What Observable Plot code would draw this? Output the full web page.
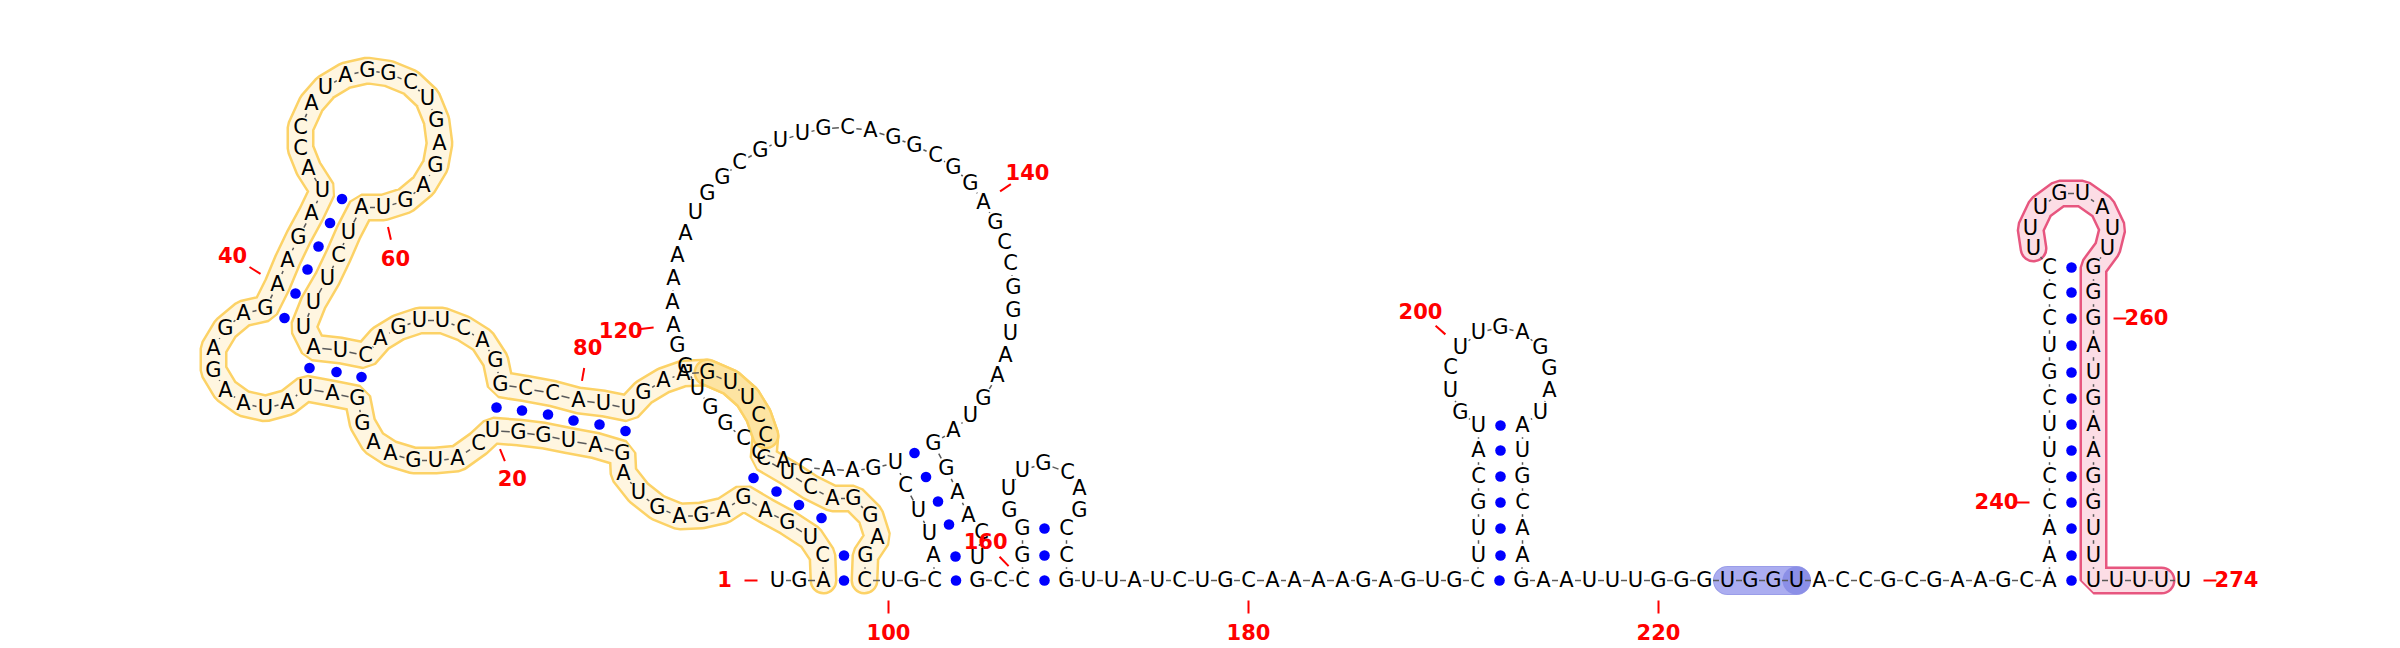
<!DOCTYPE html>
<html>
<head>
<meta charset="utf-8">
<script src="https://cdn.jsdelivr.net/npm/d3@7"></script>
<script src="https://cdn.jsdelivr.net/npm/@observablehq/plot@0.6"></script>
<style>
html, body { margin: 0; padding: 0; background: #fff; overflow: hidden; }
#chart svg { display: block; }
</style>
</head>
<body>
<div id="chart"></div>
<script>
// ---- data ----
const sequence =
  "UGACUGAGAG" + "AGUAGAUGGU" + "CAUGAAGGAU" + "AUAAGAGAGA" + "AGAUACCAUA" +
  "GGCUGAGAGU" + "AUCUUUAUCA" + "GUUCAGGCCA" + "UUGAAGUUCC" + "CUCAGGAGCU" +
  "GCAUUCUGAA" + "CACCGGUGGA" + "AAAAUGGCGU" + "UGCAGGCGGA" + "GCCGGUAAGU" +
  "AGGAACUGCC" + "GGGUUGCAGC" + "CGUUAUCUGC" + "AAAAGAGUGC" + "UUGCAUGUCU" +
  "UGAGGAUAUG" + "CAAGAAUUUG" + "GGUGGUACCG" + "CGAAGCAAAC" + "CUUCGUCCCU" +
  "UUGUAUUGGG" + "AUGAAGGUUU" + "UUUU";

// layout coordinates of each nucleotide (structure-drawing units)
const nx = [
  777,799,823,822,810,787,765,743,723,701,
  679,657,638,623,622,595,568,543,518,492,
  478,457,435,413,390,373,362,357,332,305,
  287,265,243,225,213,213,225,243,265,277,
  287,298,311,322,308,300,300,311,325,345,
  367,388,410,427,436,439,435,423,405,383,
  361,348,338,327,313,303,313,340,365,380,
  398,419,442,463,482,495,500,525,552,578,
  603,628,643,663,683,707,730,747,758,765,
  763,787,810,832,853,870,877,865,864,888,
  911,934,933,929,918,905,895,873,852,828,
  805,783,758,743,725,710,697,685,677,673,
  672,673,677,685,695,707,722,739,760,780,
  802,823,847,870,893,914,935,953,970,983,
  995,1004,1010,1013,1013,1010,1005,997,983,970,
  953,933,946,957,968,981,977,977,1000,1022,
  1022,1022,1009,1008,1022,1043,1067,1079,1079,1066,
  1066,1066,1088,1111,1134,1157,1179,1202,1225,1248,
  1272,1294,1318,1342,1363,1385,1408,1432,1454,1477,
  1478,1478,1478,1478,1478,1478,1460,1450,1450,1460,
  1478,1500,1522,1540,1549,1549,1540,1522,1522,1522,
  1522,1522,1522,1521,1543,1566,1589,1612,1635,1658,
  1681,1704,1727,1750,1773,1796,1819,1842,1865,1888,
  1911,1934,1957,1980,2003,2026,2049,2049,2049,2049,
  2049,2049,2049,2049,2049,2049,2049,2049,2049,2033,
  2030,2040,2059,2082,2102,2112,2107,2093,2093,2093,
  2093,2093,2093,2093,2093,2093,2093,2093,2093,2093,
  2116,2139,2161,2183
];
const ny = [
  580,580,580,555,537,522,510,497,510,515,
  516,507,492,473,453,445,440,435,432,430,
  443,458,460,460,453,442,423,398,393,388,
  402,408,403,390,370,348,328,313,308,284,
  260,237,213,190,168,148,127,103,87,75,
  70,73,82,98,120,143,165,185,200,207,
  207,232,255,278,302,327,347,350,355,338,
  327,320,320,328,340,360,384,388,393,400,
  403,408,392,380,373,372,382,397,415,435,
  458,472,487,498,498,515,537,555,580,580,
  580,580,555,533,510,485,462,468,470,469,
  467,460,452,438,423,407,388,366,345,325,
  302,278,255,233,212,193,177,162,150,140,
  133,128,127,130,137,145,155,167,183,202,
  222,242,263,287,310,333,355,375,398,415,
  430,443,468,492,515,532,557,580,580,580,
  555,528,510,488,470,463,472,488,510,528,
  555,580,580,580,580,580,580,580,580,580,
  580,580,580,580,580,580,580,580,580,580,
  555,528,502,476,450,425,412,390,367,347,
  332,327,332,347,368,390,412,425,450,476,
  502,528,555,580,580,580,580,580,580,580,
  580,580,580,580,580,580,580,580,580,580,
  580,580,580,580,580,580,580,555,528,502,
  476,450,424,398,372,345,318,292,267,248,
  228,207,193,193,207,228,248,267,292,318,
  345,372,398,424,450,476,502,528,555,580,
  580,580,580,580
];

// base pairs (5' partner, 3' partner)
const pairFrom = [3,4,5,6,7,8, 15,16,17,18,19,20, 28,29,30, 39,40,41,42,43,44,
  102,103,104,105,106,107, 160,161,162, 190,191,192,193,194,195,196,
  237,238,239,240,241,242,243,244,245,246,247,248,249];
const pairTo = [99,98,94,93,92,91, 82,81,80,79,78,77, 69,68,67, 66,65,64,63,62,61,
  158,157,155,154,153,152, 172,171,170, 214,213,212,211,210,209,208,
  270,269,268,267,266,265,264,263,262,261,260,259,258];

// position labels and the direction (degrees) in which each is drawn
const labelNums = [1,20,40,60,80,100,120,140,160,180,200,220,240,260,274];
const labelAngles = [180,68,212,77,280,90,174,326,226,90,221,90,180,0,0];

// highlighted stretches of the backbone
const regionStart = [3, 86, 223, 250];
const regionEnd   = [99, 90, 226, 273];
const spotNums = [226];

// ---- styles ----
const regionStyle = [
  {outline: "#fcd266", fill: "#fff6e0", outer: 28, inner: 23},
  {outline: "#fcd266", fill: "#fde4a2", outer: 28, inner: 23},
  {outline: "#9a9de9", fill: "#abadf0", outer: 29, inner: 27},
  {outline: "#e7567f", fill: "#fcdde5", outer: 28, inner: 23}
];
const spotStyle = {fill: "#8b8fe7", r: 14};

// ---- derived tables ----
const nts = Array.from(sequence, (b, i) => ({n: i + 1, b, x: nx[i], y: ny[i]}));

const backbone = [];
for (let i = 0; i + 1 < nts.length; i++) {
  const a = nts[i], c = nts[i + 1];
  const dx = c.x - a.x, dy = c.y - a.y, len = Math.hypot(dx, dy);
  const ux = dx / len, uy = dy / len;
  const s = 8.5 + 3.2 * Math.abs(uy);
  if (len > 2 * s + 0.5) {
    backbone.push({x1: a.x + ux * s, y1: a.y + uy * s, x2: c.x - ux * s, y2: c.y - uy * s});
  }
}

const pairDots = pairFrom.map((p, k) => {
  const a = nts[p - 1], c = nts[pairTo[k] - 1];
  return {x: (a.x + c.x) / 2, y: (a.y + c.y) / 2};
});

const labels = labelNums.map((n, k) => {
  const t = labelAngles[k] * Math.PI / 180, cx = Math.cos(t), cy = Math.sin(t);
  const d = nts[n - 1];
  return {
    n,
    x1: d.x + cx * 20, y1: d.y + cy * 20,
    x2: d.x + cx * 33, y2: d.y + cy * 33,
    tx: d.x + cx * 53, ty: d.y + cy * 53
  };
});

const regionMarks = [];
regionStart.forEach((s, k) => {
  const seg = nts.filter(d => d.n >= s && d.n <= regionEnd[k]);
  const st = regionStyle[k];
  regionMarks.push(Plot.line(seg, {x: "x", y: "y", stroke: st.outline, strokeWidth: st.outer,
    strokeLinejoin: "miter", strokeLinecap: "round", curve: "linear"}));
  regionMarks.push(Plot.line(seg, {x: "x", y: "y", stroke: st.fill, strokeWidth: st.inner,
    strokeLinejoin: "miter", strokeLinecap: "round", curve: "linear"}));
});
const spots = nts.filter(d => spotNums.includes(d.n));

const chart = Plot.plot({
  width: 2400,
  height: 648,
  margin: 0,
  x: {domain: [0, 2400], range: [0, 2400], axis: null},
  y: {domain: [0, 648], range: [0, 648], axis: null},
  style: {background: "#ffffff", fontFamily: "DejaVu Sans, Verdana, sans-serif"},
  marks: [
    ...regionMarks,
    Plot.dot(spots, {x: "x", y: "y", r: spotStyle.r, fill: spotStyle.fill, stroke: "none"}),
    Plot.link(backbone, {x1: "x1", y1: "y1", x2: "x2", y2: "y2", stroke: "#5a5a5a", strokeWidth: 1.5}),
    Plot.dot(pairDots, {x: "x", y: "y", r: 5.3, fill: "#0000ff", stroke: "none"}),
    Plot.text(nts, {x: "x", y: "y", text: "b", fontSize: 21, fill: "#000000",
      fontFamily: "DejaVu Sans, sans-serif"}),
    Plot.link(labels, {x1: "x1", y1: "y1", x2: "x2", y2: "y2", stroke: "#ff0000", strokeWidth: 2}),
    Plot.text(labels, {x: "tx", y: "ty", text: d => String(d.n), fill: "#ff0000",
      fontSize: 21, fontWeight: "bold", fontFamily: "DejaVu Sans, sans-serif"})
  ]
});
document.getElementById("chart").appendChild(chart);
</script>
</body>
</html>
